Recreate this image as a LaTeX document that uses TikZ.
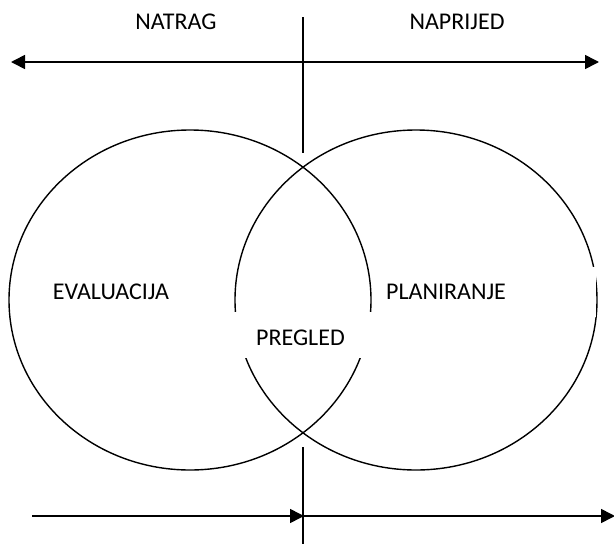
\documentclass[tikz,border=0pt]{standalone}
\usepackage{fontspec}
\setmainfont{Carlito}
\usetikzlibrary{arrows.meta,shapes.geometric}
\begin{document}
\begin{tikzpicture}[x=1pt,y=-1pt,
  lbl/.style={font=\fontsize{24}{28}\selectfont, inner sep=0pt, text height=15pt, text depth=0pt},
  ln/.style={line width=1.6pt},
  ring/.style={ellipse, draw, line width=1.4pt, inner sep=0pt, minimum width=362pt, minimum height=340pt},
  arr/.style={ln, -{Triangle[length=14pt,width=14pt]}},
  darr/.style={ln, {Triangle[length=14pt,width=14pt]}-{Triangle[length=14pt,width=14pt]}},
  cover/.style={fill=white, inner sep=0pt}]
\useasboundingbox (0,0) rectangle (614,544);
% circles
\node[ring] (left) at (190,300) {};
\node[ring] (right) at (416,300) {};
% vertical divider
\coordinate (vt1) at (303,17);
\coordinate (vt2) at (303,153);
\coordinate (vb1) at (303,447);
\coordinate (vb2) at (303,544);
\draw[ln] (vt1) -- (vt2);
\draw[ln] (vb1) -- (vb2);
% top double arrow
\coordinate (tl) at (11,62);
\coordinate (tr) at (599,62);
\draw[darr] (tl) -- (tr);
% bottom arrows
\coordinate (bl) at (32,516);
\coordinate (bm) at (304,516);
\coordinate (br) at (615,516);
\draw[arr] (bl) -- (bm);
\draw[arr] (bm) -- (br);
% white text boxes
\node[cover, minimum width=144pt, minimum height=46pt] (pregledbox) at (304,335) {};
\node[cover, minimum width=217.5pt, minimum height=50pt] (planbox) at (486.75,292) {};
% labels
\node[lbl] (natrag) at (176,22) {NATRAG};
\node[lbl] (naprijed) at (457,22) {NAPRIJED};
\node[lbl] (evaluacija) at (111,292) {EVALUACIJA};
\node[lbl] (planiranje) at (446,292) {PLANIRANJE};
\node[lbl] (pregled) at (300.5,337.5) {PREGLED};
\end{tikzpicture}
\end{document}
